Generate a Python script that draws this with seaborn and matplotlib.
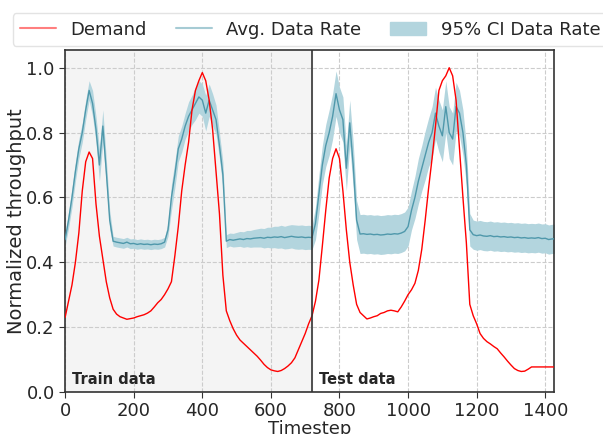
import numpy as np
import pandas as pd
import matplotlib
matplotlib.use("Agg")
import matplotlib.pyplot as plt
import seaborn as sns
from matplotlib.lines import Line2D
from matplotlib.patches import Patch

# timesteps sampled every 10 steps
timestep = np.arange(0, 1431, 10)

demand = [
    0.23, 0.28, 0.33, 0.40, 0.49, 0.62, 0.71, 0.74, 0.72, 0.58,      # 0-90
    0.48, 0.41, 0.34, 0.29, 0.255, 0.24, 0.232, 0.228, 0.224, 0.226,  # 100-190
    0.228, 0.232, 0.235, 0.238, 0.243, 0.25, 0.262, 0.275, 0.285, 0.30,  # 200-290
    0.318, 0.34, 0.42, 0.51, 0.62, 0.70, 0.77, 0.87, 0.93, 0.96,     # 300-390
    0.985, 0.96, 0.90, 0.81, 0.68, 0.55, 0.36, 0.25, 0.22, 0.195,    # 400-490
    0.175, 0.16, 0.15, 0.14, 0.13, 0.12, 0.11, 0.098, 0.085, 0.075,  # 500-590
    0.068, 0.065, 0.063, 0.066, 0.072, 0.08, 0.09, 0.105, 0.13, 0.155,  # 600-690
    0.18, 0.21, 0.235, 0.28, 0.345, 0.45, 0.56, 0.66, 0.72, 0.75,    # 700-790
    0.72, 0.62, 0.50, 0.40, 0.33, 0.27, 0.245, 0.235, 0.225, 0.228,  # 800-890
    0.232, 0.235, 0.242, 0.245, 0.25, 0.252, 0.25, 0.247, 0.262, 0.28,  # 900-990
    0.30, 0.315, 0.335, 0.375, 0.44, 0.53, 0.63, 0.72, 0.82, 0.93,   # 1000-1090
    0.96, 0.975, 1.0, 0.975, 0.90, 0.75, 0.60, 0.46, 0.27, 0.235,    # 1100-1190
    0.21, 0.18, 0.165, 0.155, 0.148, 0.14, 0.133, 0.12, 0.108, 0.095,  # 1200-1290
    0.083, 0.072, 0.066, 0.063, 0.064, 0.07, 0.077, 0.077, 0.077, 0.077,  # 1300-1390
    0.077, 0.077, 0.077, 0.077,                                      # 1400-1430
]

rate_mean = [
    0.47, 0.53, 0.60, 0.68, 0.75, 0.80, 0.87, 0.93, 0.89, 0.81,
    0.70, 0.82, 0.68, 0.53, 0.465, 0.462, 0.46, 0.458, 0.462, 0.457,
    0.458, 0.455, 0.457, 0.455, 0.456, 0.454, 0.456, 0.455, 0.457, 0.462,
    0.50, 0.60, 0.67, 0.75, 0.78, 0.82, 0.85, 0.87, 0.89, 0.91,
    0.90, 0.86, 0.90, 0.87, 0.84, 0.76, 0.67, 0.465, 0.47, 0.468,
    0.47, 0.472, 0.47, 0.473, 0.472, 0.474, 0.475, 0.476, 0.474, 0.477,
    0.476, 0.478, 0.477, 0.479, 0.476, 0.478, 0.48, 0.478, 0.477, 0.478,
    0.476, 0.477, 0.476, 0.52, 0.61, 0.70, 0.76, 0.80, 0.85, 0.92,
    0.87, 0.84, 0.69, 0.83, 0.70, 0.53, 0.487, 0.488, 0.486, 0.487,
    0.485, 0.486, 0.484, 0.485, 0.487, 0.486, 0.488, 0.487, 0.49, 0.495,
    0.51, 0.56, 0.60, 0.65, 0.69, 0.73, 0.77, 0.80, 0.86, 0.82,
    0.79, 0.88, 0.80, 0.78, 0.88, 0.86, 0.80, 0.70, 0.50, 0.485,
    0.482, 0.484, 0.481, 0.48, 0.482, 0.479, 0.48, 0.478, 0.479, 0.477,
    0.478, 0.476, 0.477, 0.475, 0.476, 0.474, 0.475, 0.474, 0.476, 0.473,
    0.474, 0.47, 0.472, 0.472,
]

# half width of the 95% CI band
rate_ci = [
    0.02, 0.025, 0.03, 0.03, 0.03, 0.03, 0.03, 0.03, 0.04, 0.04,
    0.05, 0.05, 0.04, 0.03, 0.015, 0.015, 0.015, 0.015, 0.015, 0.015,
    0.015, 0.015, 0.015, 0.015, 0.015, 0.015, 0.015, 0.015, 0.015, 0.015,
    0.02, 0.04, 0.04, 0.04, 0.04, 0.04, 0.045, 0.045, 0.05, 0.05,
    0.05, 0.055, 0.05, 0.05, 0.045, 0.04, 0.04, 0.02, 0.02, 0.021,
    0.022, 0.023, 0.024, 0.025, 0.026, 0.027, 0.028, 0.029, 0.03, 0.031,
    0.032, 0.033, 0.034, 0.035, 0.035, 0.036, 0.036, 0.037, 0.037, 0.037,
    0.037, 0.037, 0.037, 0.05, 0.06, 0.06, 0.065, 0.07, 0.07, 0.07,
    0.07, 0.07, 0.07, 0.07, 0.07, 0.06, 0.06, 0.06, 0.06, 0.06,
    0.06, 0.06, 0.06, 0.06, 0.06, 0.06, 0.06, 0.06, 0.06, 0.06,
    0.06, 0.06, 0.065, 0.07, 0.07, 0.075, 0.075, 0.08, 0.08, 0.08,
    0.08, 0.08, 0.08, 0.08, 0.075, 0.07, 0.07, 0.06, 0.05, 0.045,
    0.045, 0.045, 0.045, 0.045, 0.045, 0.045, 0.045, 0.045, 0.045, 0.045,
    0.045, 0.045, 0.045, 0.045, 0.045, 0.045, 0.045, 0.045, 0.045, 0.045,
    0.045, 0.045, 0.045, 0.045,
]

split_step = 720
x_ticks = [0, 200, 400, 600, 800, 1000, 1200, 1400]
y_ticks = [0.0, 0.2, 0.4, 0.6, 0.8, 1.0]

df = pd.DataFrame({"Timestep": timestep, "Demand": demand,
                   "mean": rate_mean, "ci": rate_ci})
df["lo"] = df["mean"] - df["ci"]
df["hi"] = df["mean"] + df["ci"]

sns.set_style("whitegrid", {"grid.linestyle": "--", "grid.color": "#cccccc",
                            "axes.edgecolor": "#333333",
                            "xtick.bottom": True, "ytick.left": True})
plt.rcParams["font.family"] = ["DejaVu Sans"]

red = "#ff0000"
teal = "#4f98ab"
band = "#b3d5de"

fig, ax = plt.subplots(figsize=(6.03, 4.34), dpi=100)
fig.subplots_adjust(left=0.108, right=0.919, bottom=0.097, top=0.885)

ax.axvspan(0, split_step, color="#f4f4f4", zorder=0)
ax.fill_between(df["Timestep"], df["lo"], df["hi"], color=band, lw=0, zorder=2)
sns.lineplot(data=df, x="Timestep", y="mean", color=teal, lw=1, ax=ax, zorder=3)
sns.lineplot(data=df, x="Timestep", y="Demand", color=red, lw=1, ax=ax, zorder=4)
ax.axvline(split_step, color="#333333", lw=1.2, zorder=5)

ax.text(20, 0.025, "Train data", fontsize=10.5, fontweight="bold", zorder=6)
ax.text(split_step + 20, 0.025, "Test data", fontsize=10.5, fontweight="bold", zorder=6)

ax.set_xlim(0, 1426)
ax.set_ylim(0, 1.055)
ax.set_xticks(x_ticks)
ax.set_yticks(y_ticks)
ax.tick_params(labelsize=13, length=4, color="#333333")
ax.set_xlabel("Timestep", fontsize=13, labelpad=0)
ax.set_ylabel("Normalized throughput", fontsize=14)
ax.yaxis.set_label_coords(-0.08, 0.5)
for s in ax.spines.values():
    s.set_linewidth(1.2)

handles = [Line2D([], [], color=red, lw=1.5, alpha=0.5),
           Line2D([], [], color=teal, lw=1.5, alpha=0.5),
           Patch(facecolor=band, edgecolor=band)]
fig.legend(handles, ["Demand", "Avg. Data Rate", "95% CI Data Rate"],
           loc="upper left", bbox_to_anchor=(0.006, 0.99), ncol=3,
           fontsize=13, frameon=True, edgecolor="#dddddd",
           handlelength=2, columnspacing=1.6)

fig.savefig("out.png", dpi=100)
